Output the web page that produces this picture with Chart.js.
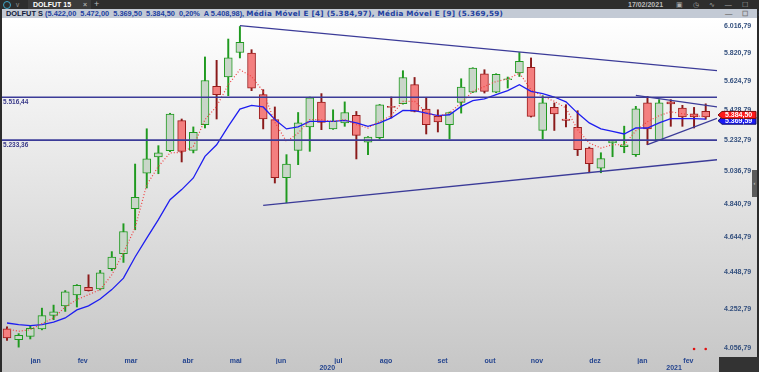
<!DOCTYPE html>
<html>
<head>
<meta charset="utf-8">
<script src="https://cdn.jsdelivr.net/npm/chart.js@4.4.1/dist/chart.umd.min.js"></script>
<style>
  body { margin:0; width:759px; height:372px; overflow:hidden; background:#2b2b2b; position:relative;
         font-family:"Liberation Sans", Arial, sans-serif; }
  #topbar { position:absolute; left:0; top:0; width:759px; height:9px; background:#2d2d2d; }
  #clock { position:absolute; left:3px; top:1px; width:6px; height:6px; border:1px solid #3fa7c9; border-radius:50%; }
  #chev { position:absolute; left:15px; top:0; color:#888; font-size:7px; line-height:9px; }
  #tab { position:absolute; left:28px; top:0; width:63px; height:9px; background:#3b3b3b; color:#fff;
         font-size:7px; font-weight:bold; line-height:9px; }
  #tab span { position:absolute; left:5px; }
  #tab i { position:absolute; left:55px; font-style:normal; color:#aaa; }
  #plus { position:absolute; left:94px; top:0; color:#bbb; font-size:9px; line-height:9px; }
  #date { position:absolute; left:628px; top:0; color:#bbb; font-size:7px; font-weight:bold; line-height:9px; }
  #winctl { position:absolute; left:676px; top:0; color:#aaa; font-size:7px; line-height:9px; letter-spacing:4px; }
  #infobar { position:absolute; left:2px; top:9px; width:755px; height:9px; background:#c3cad5; font-size:7.4px;
             font-weight:bold; color:#2140a0; line-height:9px; white-space:nowrap; }
  #infobar b { color:#111a3a; margin-left:4px; }
  #infobar em { font-style:normal; font-family:"DejaVu Sans", sans-serif; font-size:7.2px; letter-spacing:0.3px; }
  #infoctl { position:absolute; left:723px; top:0; color:#777; letter-spacing:4px; }
  #wrap { position:absolute; left:2px; top:18px; width:755px; height:354px; }
  #wrap canvas { display:block; }
  #corner { position:absolute; left:719px; top:357px; width:40px; height:15px; background:#333; }
  #handle { position:absolute; left:752px; top:170px; width:5px; height:27px; background:#5a5a5a; color:#ddd;
            font-size:6px; line-height:27px; text-align:center; }
</style>
</head>
<body>
<div id="topbar">
  <div id="clock"></div><div id="chev">&#8744;</div>
  <div id="tab"><span>DOLFUT 15</span><i>&#215;</i></div>
  <div id="plus">+</div>
  <div id="date">17/02/2021</div>
  <div id="winctl">&#9635; &#9719; &#8767; &#8212; &#9744; &#10005;</div>
</div>
<div id="infobar"><b>DOLFUT S</b> (5.422,00&nbsp; 5.472,00&nbsp; 5.369,50&nbsp; 5.384,50&nbsp; 0,20%&nbsp; A 5.408,98), <em>Média Móvel E [4] (5.384,97), Média Móvel E [9] (5.369,59)</em>
  <span id="infoctl">&#8212; &#9744; &#10005;</span></div>
<div id="wrap"><canvas id="chart" width="755" height="354"></canvas></div>
<div id="corner"></div>
<div id="handle">&#8249;</div>
<script>
// weekly candles, jan/2020 .. fev/2021
const opens  = [4151,4096,4113,4151,4220,4270,4328,4368,4360,4469,4553,4811,5026,5126,5166,5360,5168,5334,5590,5655,
                5828,5824,5534,5367,4997,5168,5319,5484,5306,5345,5395,5221,5250,5455,5473,5602,5437,5388,5334,5482,
                5550,5678,5550,5636,5683,5722,5296,5448,5371,5316,5183,5057,5216,5191,5141,5478,5235,5485,5444,5406,5422];
const highs  = [4161,4127,4164,4258,4274,4351,4383,4436,4460,4564,4723,5082,5307,5198,5409,5371,5319,5796,5772,5925,
                6017,5848,5568,5451,5141,5414,5518,5541,5432,5485,5421,5256,5468,5518,5699,5652,5516,5432,5417,5643,
                5720,5706,5678,5655,5828,5789,5527,5478,5466,5426,5189,5153,5231,5324,5455,5522,5500,5500,5462,5448,5472];
const lows   = [4093,4059,4100,4146,4198,4241,4264,4348,4354,4459,4504,4688,4935,5022,5160,5095,5152,5312,5371,5527,
                5789,5561,5306,4965,4846,5078,5162,5301,5303,5323,5114,5141,5240,5378,5470,5418,5273,5286,5240,5410,
                5548,5545,5547,5579,5659,5384,5242,5296,5319,5135,5028,5028,5128,5153,5130,5204,5233,5323,5323,5312,5369.5];
const closes = [4105,4118,4154,4219,4239,4344,4379,4351,4447,4534,4678,4878,5114,5152,5404,5162,5283,5631,5534,5789,
                5901,5579,5371,4997,5082,5345,5512,5349,5355,5414,5264,5253,5466,5448,5652,5421,5334,5351,5414,5586,
                5718,5556,5673,5643,5765,5388,5478,5404,5362,5172,5085,5116,5229,5204,5439,5306,5478,5471,5384,5384,5384.5];

// Média Móvel E [4] and [9]
const ema4 = [4151,4139,4147,4178,4207,4264,4303,4329,4356,4436,4558,4700,4955,5067,5152,5155,5193,5367,5455,5602,
              5706,5659,5556,5349,5225,5279,5367,5367,5355,5367,5334,5312,5355,5393,5489,5489,5414,5388,5412,5478,
              5556,5590,5624,5641,5683,5568,5522,5489,5444,5301,5215,5183,5204,5204,5294,5353,5393,5419,5406,5393,5384.97];
const ema9 = [4181,4173,4168,4173,4185,4207,4249,4270,4306,4356,4418,4534,4640,4747,4864,4925,4996,5130,5204,5323,
              5437,5462,5451,5368,5306,5319,5355,5355,5355,5362,5345,5323,5345,5378,5428,5426,5410,5393,5399,5455,
              5493,5505,5534,5561,5602,5556,5541,5518,5485,5410,5345,5306,5290,5273,5312,5312,5345,5373,5373,5373,5369.59];

// drawn studies: horizontal levels and trend lines (candle index, price)
const hLines = [5516.44, 5233.36];
const trendLines = [
  [[20.0, 6024], [60.97, 5699]],
  [[22.0, 4830], [60.97, 5109]],
  [[54.0, 5529], [60.97, 5451]],
  [[55.0, 5204], [60.97, 5375]]
];
const markers = [[59, 4050], [60, 4050]];

const yTicks = [4056.79, 4252.79, 4448.79, 4644.79, 4840.79, 5036.79, 5232.79, 5428.79, 5624.79, 5820.79, 6016.79];
const monthPos = [2.46, 6.5, 10.65, 15.54, 19.64, 23.53, 28.45, 32.55, 37.41, 41.48, 45.51, 50.49, 54.56, 58.51];
const monthLabels = ['jan','fev','mar','abr','mai','jun','jul','ago','set','out','nov','dez','jan','fev'];
const yearPos = [27.5, 57.28];
const yearLabels = ['2020', '2021'];

function fmtBR(v)
{
    const parts = v.toFixed(2).split('.');
    return parts[0].replace(/\B(?=(\d{3})+(?!\d))/g, '.') + ',' + parts[1];
}

const upBodies = [], downBodies = [], upWicks = [], downWicks = [];
for (let i = 0; i < opens.length; i++)
{
    const up = closes[i] >= opens[i];
    (up ? upBodies : downBodies).push({x: i, y: [opens[i], closes[i]]});
    (up ? upWicks : downWicks).push({x: i, y: [lows[i], highs[i]]});
}

const navy = '#3b3b98';
const datasets = [];
trendLines.forEach(function (t) {
    datasets.push({type: 'line', data: t.map(p => ({x: p[0], y: p[1]})), borderColor: navy, borderWidth: 1.3,
                   pointRadius: 0, order: 0});
});
hLines.forEach(function (h) {
    datasets.push({type: 'line', data: [{x: -0.43, y: h}, {x: 60.97, y: h}], borderColor: navy, borderWidth: 1.6,
                   pointRadius: 0, order: 0});
});
datasets.push({type: 'line', data: markers.map(p => ({x: p[0], y: p[1]})), showLine: false, pointRadius: 1.3,
               pointBackgroundColor: '#e01010', pointBorderWidth: 0, order: 0});
datasets.push({type: 'line', data: ema4.map((v, i) => ({x: i, y: v})), borderColor: '#f04040', borderWidth: 1.2,
               borderDash: [1, 2], pointRadius: 0, order: 1});
datasets.push({type: 'line', data: ema9.map((v, i) => ({x: i, y: v})), borderColor: '#1e1ef0', borderWidth: 1.3,
               pointRadius: 0, order: 1});
datasets.push({type: 'bar', data: upBodies, backgroundColor: '#c9d6c9', borderColor: '#1f9a1f', borderWidth: 1,
               borderSkipped: false, barThickness: 8, grouped: false, order: 2});
datasets.push({type: 'bar', data: downBodies, backgroundColor: '#f47f7f', borderColor: '#9a1c1c', borderWidth: 1,
               borderSkipped: false, barThickness: 8, grouped: false, order: 2});
datasets.push({type: 'bar', data: upWicks, backgroundColor: '#1f9a1f', barThickness: 1.3, grouped: false, order: 3});
datasets.push({type: 'bar', data: downWicks, backgroundColor: '#8a1a1a', barThickness: 1.3, grouped: false, order: 3});

const background = {
    id: 'background',
    beforeDraw(chart) {
        const ctx = chart.ctx;
        const g = ctx.createLinearGradient(0, 0, 0, chart.height);
        g.addColorStop(0, '#ffffff');
        g.addColorStop(1, '#c6c6c6');
        ctx.save();
        ctx.fillStyle = g;
        ctx.fillRect(0, 0, chart.width, chart.height);
        ctx.restore();
    }
};

function priceTag(ctx, x0, x1, yc, fill, stroke, text)
{
    ctx.beginPath();
    ctx.moveTo(x0 - 4, yc);
    ctx.lineTo(x0, yc - 3.5);
    ctx.lineTo(x1, yc - 3.5);
    ctx.lineTo(x1, yc + 3.5);
    ctx.lineTo(x0, yc + 3.5);
    ctx.closePath();
    ctx.fillStyle = fill;
    ctx.fill();
    ctx.strokeStyle = stroke;
    ctx.lineWidth = 1;
    ctx.stroke();
    ctx.fillStyle = '#ffffff';
    ctx.fillText(text, x0 + 3, yc + 0.5);
}

const overlay = {
    id: 'overlay',
    afterDraw(chart) {
        const ctx = chart.ctx, y = chart.scales.y, area = chart.chartArea;
        ctx.save();
        ctx.font = 'bold 6.5px "Liberation Sans", Arial, sans-serif';
        ctx.fillStyle = '#3b3b8a';
        ctx.textBaseline = 'top';
        hLines.forEach(h => ctx.fillText(fmtBR(h), 1, y.getPixelForValue(h) + 1.5));
        ctx.textBaseline = 'middle';
        ctx.font = 'bold 7px "Liberation Sans", Arial, sans-serif';
        const last = closes.length - 1;
        priceTag(ctx, area.right + 5, chart.width - 1, y.getPixelForValue(ema9[last]) + 1.5, '#1a1af5', '#10106a', fmtBR(ema9[last]));
        priceTag(ctx, area.right + 5, chart.width - 1, y.getPixelForValue(closes[last]) - 2, '#ff1a1a', '#7a0c0c', fmtBR(closes[last]));
        ctx.restore();
    }
};

const labelFont = {family: '"Liberation Sans", Arial, sans-serif', size: 7, weight: 'bold'};
const noPad = s => { s.paddingTop = 0; s.paddingBottom = 0; s.paddingLeft = 0; s.paddingRight = 0; };

new Chart(document.getElementById('chart').getContext('2d'), {
    type: 'bar',
    data: {datasets: datasets},
    plugins: [background, overlay],
    options: {
        responsive: false,
        animation: false,
        layout: {padding: 0, autoPadding: false},
        plugins: {legend: {display: false}, tooltip: {enabled: false}},
        scales: {
            x: {
                type: 'linear', min: -0.43, max: 60.97, position: 'bottom', offset: false,
                grid: {display: false, drawTicks: false}, border: {display: false},
                afterBuildTicks: s => { s.ticks = monthPos.map(v => ({value: v})); },
                afterFit: s => { s.height = 9; noPad(s); },
                ticks: {autoSkip: false, maxRotation: 0, padding: 2, color: '#25458f', font: labelFont,
                        callback: (v, i) => monthLabels[i]}
            },
            x2: {
                type: 'linear', min: -0.43, max: 60.97, position: 'bottom', offset: false,
                grid: {display: false, drawTicks: false}, border: {display: false},
                afterBuildTicks: s => { s.ticks = yearPos.map(v => ({value: v})); },
                afterFit: s => { s.height = 8; noPad(s); },
                ticks: {autoSkip: false, maxRotation: 0, padding: 0, color: '#25458f', font: labelFont,
                        callback: (v, i) => yearLabels[i]}
            },
            y: {
                type: 'logarithmic', min: 4020, max: 6080, position: 'right',
                grid: {display: false, drawTicks: false}, border: {display: false},
                afterBuildTicks: s => { s.ticks = yTicks.map(v => ({value: v})); },
                afterFit: s => { s.width = 40; noPad(s); },
                ticks: {padding: 7, color: '#34507e', font: labelFont, callback: v => fmtBR(v)}
            }
        }
    }
});
</script>
</body>
</html>
